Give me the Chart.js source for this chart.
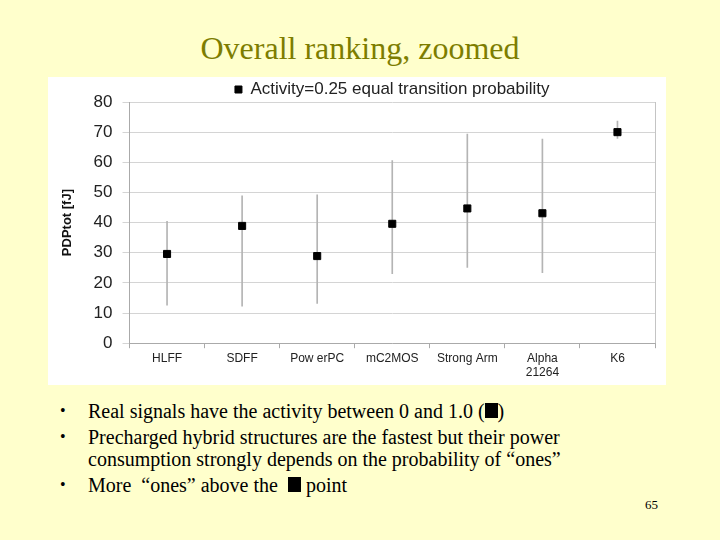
<!DOCTYPE html>
<html><head><meta charset="utf-8">
<script src="https://cdn.jsdelivr.net/npm/chart.js@4"></script>
<style>
html,body{margin:0;padding:0;}
body{width:720px;height:540px;background:#FFFFCC;position:relative;overflow:hidden;font-family:"Liberation Serif","Times New Roman",serif;}
#title{position:absolute;left:0;top:30px;width:720px;text-align:center;font-size:32px;color:#7d7d00;}
#box{position:absolute;left:48px;top:77px;width:618px;height:308px;background:#fff;}
ul{position:absolute;left:56px;top:400px;margin:0;padding:0;list-style:none;font-size:20px;color:#000;line-height:22px;width:600px;}
li{position:relative;padding-left:32px;margin-bottom:4px;}
li:before{content:"•";position:absolute;left:4px;top:0;font-size:16px;}
.sq{display:inline-block;width:13px;height:15px;background:#000;vertical-align:0px;}
#pg{position:absolute;left:645px;top:497px;font-size:13px;}
</style></head><body>
<div id="title">Overall ranking, zoomed</div>
<div id="box"><canvas id="c" width="618" height="308"></canvas></div>
<ul>
<li>Real signals have the activity between 0 and 1.0 (<span class="sq"></span>)</li>
<li>Precharged hybrid structures are the fastest but their power consumption strongly depends on the probability of “ones”</li>
<li>More &nbsp;“ones” above the &nbsp;<span class="sq"></span> point</li>
</ul>
<div id="pg">65</div>
<script>
const categories = ["HLFF","SDFF","Pow erPC","mC2MOS","Strong Arm",["Alpha","21264"],"K6"];
const pdpValues = [29.6, 38.9, 28.9, 39.6, 44.7, 43.1, 70.0];
const rangeLow  = [12.6, 12.3, 13.2, 23.1, 25.1, 23.4, 67.9];
const rangeHigh = [40.4, 48.9, 49.2, 60.6, 69.4, 67.7, 73.7];
const yTicks = [0,10,20,30,40,50,60,70,80];

const rightBorder = {
  id:'rightBorder',
  afterDraw(chart){
    const a = chart.chartArea, ctx = chart.ctx;
    ctx.save(); ctx.strokeStyle='#c4c4c4'; ctx.lineWidth=1;
    ctx.beginPath(); ctx.moveTo(Math.round(a.right)+0.5, a.top); ctx.lineTo(Math.round(a.right)+0.5, a.bottom); ctx.stroke();
    ctx.restore();
  }
};
const tightLegend = {
  id:'tightLegend',
  beforeInit(chart){
    const lg = chart.legend;
    if (!lg) return;
    const fit = lg.fit;
    lg.fit = function(){ fit.call(this); this.height -= 6; };
  }
};

new Chart(document.getElementById('c'), {
  data: {
    labels: categories,
    datasets: [
      { type:'line', label:'Activity=0.25 equal transition probability', data: pdpValues,
        showLine:false, pointStyle:'rect', pointRadius:5, pointBorderWidth:1, pointBackgroundColor:'#000', pointBorderColor:'#000', order:0 },
      { type:'bar', label:'range', data: rangeLow.map((l,i)=>[l, rangeHigh[i]]),
        backgroundColor:'#b4b4b4', borderWidth:0, barThickness:1, order:1 }
    ]
  },
  options: {
    responsive:false, animation:false,
    layout:{padding:{left:8,right:11,top:0,bottom:2}},
    plugins:{
      legend:{display:true, position:'top', fullSize:false,
        labels:{filter:(it)=>it.datasetIndex===0, usePointStyle:true, pointStyle:'rect', boxWidth:7, boxHeight:7,
          color:'#222', font:{family:'Liberation Sans, Arial', size:17}, padding:4}},
      tooltip:{enabled:false}
    },
    scales:{
      x:{ offset:true,
        grid:{offset:true, drawOnChartArea:false, tickLength:5, color:'#aaa'},
        border:{color:'#aaa'},
        ticks:{color:'#222', font:{family:'Liberation Sans, Arial', size:12}, maxRotation:0, padding:3}
      },
      y:{ min:0, max:80,
        afterBuildTicks:(s)=>{ s.ticks = yTicks.map(v=>({value:v})); },
        grid:{color:'#d4d4d4', tickLength:7},
        border:{color:'#aaa'},
        ticks:{color:'#222', font:{family:'Liberation Sans, Arial', size:17}, padding:10},
        title:{display:true, text:'PDPtot [fJ]', color:'#111', font:{family:'Liberation Sans, Arial', size:13, weight:'bold'}, padding:{top:4,bottom:8}}
      }
    }
  },
  plugins:[rightBorder, tightLegend]
});
</script>
</body></html>
